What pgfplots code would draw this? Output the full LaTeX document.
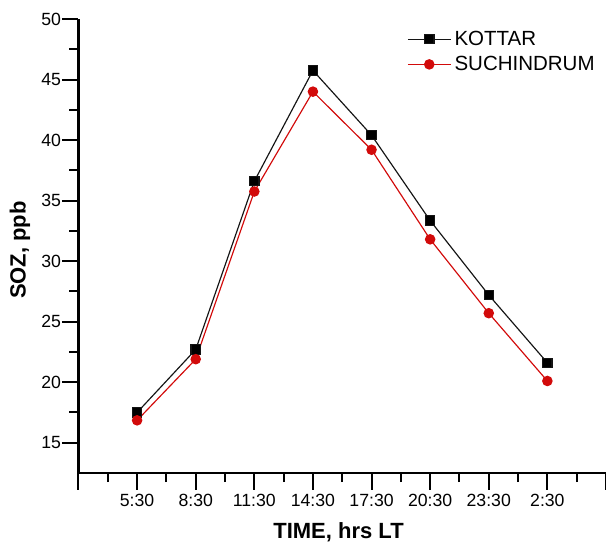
\documentclass[border=0pt]{standalone}
\usepackage{pgfplots}
\pgfplotsset{compat=1.18}
\usepackage{fontspec}
\setmainfont{Liberation Sans}

\definecolor{kotcol}{RGB}{20,20,20}
\definecolor{succol}{RGB}{210,10,10}

\pgfplotstableread{
idx kottar suchindrum
0 17.5 16.85
1 22.7 21.9
2 36.6 35.75
3 45.75 44.0
4 40.4 39.2
5 33.35 31.8
6 27.2 25.7
7 21.6 20.1
}\soz

\begin{document}
\begin{tikzpicture}
% picture frame: 606 x 544 px at 0.6pt per px
\path[use as bounding box] (-47.1pt,-42.6pt) rectangle (316.5pt,283.8pt);
\begin{axis}[
    scale only axis,
    width=316.5pt,
    height=272.4pt,
    axis x line*=bottom,
    axis y line*=left,
    xmin=-1, xmax=8,
    ymin=12.5, ymax=50,
    xtick={-1,0,...,8},
    xticklabels={,5:30,8:30,11:30,14:30,17:30,20:30,23:30,2:30,},
    minor x tick num=1,
    ytick={15,20,...,50},
    minor y tick num=1,
    xtick align=outside,
    ytick align=outside,
    tickwidth=10pt,
    subtickwidth=5.5pt,
    every tick/.append style={black, line width=1.2pt},
    axis line style={black, line width=1.3pt},
    /pgf/number format/assume math mode=true,
    ticklabel style={font=\fontsize{10.6}{12}\selectfont},
    xticklabel style={yshift=1pt},
    yticklabel style={xshift=3pt},
    xlabel={\bfseries TIME, hrs LT},
    ylabel={\bfseries SOZ, ppb},
    label style={font=\fontsize{13.2}{15}\selectfont},
    xlabel style={at={(axis description cs:0.493,-0.13)}, anchor=center},
    ylabel style={at={(axis description cs:-0.111,0.491)}, anchor=center},
    legend style={at={(axis description cs:0.6228,0.982)}, anchor=north west,
        draw=none, fill=none, font=\fontsize{12.3}{14}\selectfont,
        inner sep=0pt, row sep=1pt},
    legend cell align=left,
    legend image code/.code={
        \draw[#1, mark=none] (0cm,0cm) -- (0.9cm,0cm);
        \draw[#1] plot coordinates {(0.45cm,0cm)};
    },
]
\addplot[kotcol, line width=0.7pt, mark=square*, mark size=2.8pt,
    mark options={solid, fill=black}] table[x=idx, y=kottar] {\soz};
\addlegendentry{KOTTAR}
\addplot[succol, line width=0.7pt, mark=*, mark size=2.8pt,
    mark options={solid, fill=succol}] table[x=idx, y=suchindrum] {\soz};
\addlegendentry{SUCHINDRUM}
\end{axis}
\end{tikzpicture}
\end{document}
